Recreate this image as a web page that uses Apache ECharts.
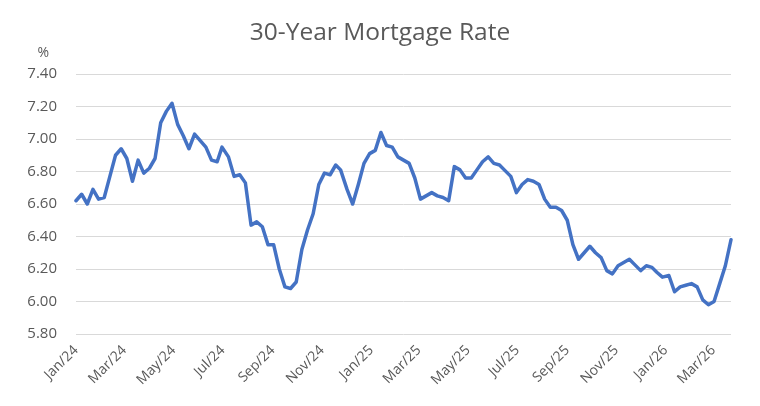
<!DOCTYPE html>
<html>
<head>
<meta charset="utf-8">
<script src="https://cdn.jsdelivr.net/npm/echarts@6/dist/echarts.min.js"></script>
<style>
  html, body { margin: 0; padding: 0; background: #fff; }
  #chart { width: 760px; height: 406px; }
</style>
</head>
<body>
<div id="chart"></div>
<script>
// Weekly survey dates (Thursdays, holiday weeks on Wednesday)
const dates2024 = [
  '2024-01-04','2024-01-11','2024-01-18','2024-01-25',
  '2024-02-01','2024-02-08','2024-02-15','2024-02-22','2024-02-29',
  '2024-03-07','2024-03-14','2024-03-21','2024-03-28',
  '2024-04-04','2024-04-11','2024-04-18','2024-04-25',
  '2024-05-02','2024-05-09','2024-05-16','2024-05-23','2024-05-30',
  '2024-06-06','2024-06-13','2024-06-20','2024-06-27',
  '2024-07-03','2024-07-11','2024-07-18','2024-07-25',
  '2024-08-01','2024-08-08','2024-08-15','2024-08-22','2024-08-29',
  '2024-09-05','2024-09-12','2024-09-19','2024-09-26',
  '2024-10-03','2024-10-10','2024-10-17','2024-10-24','2024-10-31',
  '2024-11-07','2024-11-14','2024-11-21','2024-11-27',
  '2024-12-05','2024-12-12','2024-12-19','2024-12-26'
];
const rates2024 = [
  6.62, 6.66, 6.60, 6.69,
  6.63, 6.64, 6.77, 6.90, 6.94,
  6.88, 6.74, 6.87, 6.79,
  6.82, 6.88, 7.10, 7.17,
  7.22, 7.09, 7.02, 6.94, 7.03,
  6.99, 6.95, 6.87, 6.86,
  6.95, 6.89, 6.77, 6.78,
  6.73, 6.47, 6.49, 6.46, 6.35,
  6.35, 6.20, 6.09, 6.08,
  6.12, 6.32, 6.44, 6.54, 6.72,
  6.79, 6.78, 6.84, 6.81,
  6.69, 6.60, 6.72, 6.85
];
const dates2025 = [
  '2025-01-02','2025-01-09','2025-01-16','2025-01-23','2025-01-30',
  '2025-02-06','2025-02-13','2025-02-20','2025-02-27',
  '2025-03-06','2025-03-13','2025-03-20','2025-03-27',
  '2025-04-03','2025-04-10','2025-04-17','2025-04-24',
  '2025-05-01','2025-05-08','2025-05-15','2025-05-22','2025-05-29',
  '2025-06-05','2025-06-12','2025-06-18','2025-06-26',
  '2025-07-03','2025-07-10','2025-07-17','2025-07-24','2025-07-31',
  '2025-08-07','2025-08-14','2025-08-21','2025-08-28',
  '2025-09-04','2025-09-11','2025-09-18','2025-09-25',
  '2025-10-02','2025-10-09','2025-10-16','2025-10-23','2025-10-30',
  '2025-11-06','2025-11-13','2025-11-20','2025-11-26',
  '2025-12-04','2025-12-11','2025-12-18','2025-12-24'
];
const rates2025 = [
  6.91, 6.93, 7.04, 6.96, 6.95,
  6.89, 6.87, 6.85, 6.76,
  6.63, 6.65, 6.67, 6.65,
  6.64, 6.62, 6.83, 6.81,
  6.76, 6.76, 6.81, 6.86, 6.89,
  6.85, 6.84, 6.81, 6.77,
  6.67, 6.72, 6.75, 6.74, 6.72,
  6.63, 6.58, 6.58, 6.56,
  6.50, 6.35, 6.26, 6.30,
  6.34, 6.30, 6.27, 6.19, 6.17,
  6.22, 6.24, 6.26, 6.23,
  6.19, 6.22, 6.21, 6.18
];
const dates2026 = [
  '2025-12-31','2026-01-08','2026-01-15','2026-01-22','2026-01-29',
  '2026-02-05','2026-02-12','2026-02-19','2026-02-26',
  '2026-03-05','2026-03-12','2026-03-19','2026-03-26'
];
const rates2026 = [
  6.15, 6.16, 6.06, 6.09, 6.10,
  6.11, 6.09, 6.01, 5.98,
  6.00, 6.11, 6.22, 6.38
];
// x-axis tick label dates (every two months from the first observation)
const tickDates = [
  '2024-01-04','2024-03-04','2024-05-04','2024-07-04','2024-09-04','2024-11-04',
  '2025-01-04','2025-03-04','2025-05-04','2025-07-04','2025-09-04','2025-11-04',
  '2026-01-04','2026-03-04'
];
const yTicks = [5.80, 6.00, 6.20, 6.40, 6.60, 6.80, 7.00, 7.20, 7.40];
const monthNames = ['Jan','Feb','Mar','Apr','May','Jun','Jul','Aug','Sep','Oct','Nov','Dec'];

function toTime(s) {
  const p = s.split('-').map(Number);
  return new Date(p[0], p[1] - 1, p[2]).getTime();
}

const allDates = dates2024.concat(dates2025, dates2026);
const allRates = rates2024.concat(rates2025, rates2026);
const seriesData = allDates.map((d, i) => [toTime(d), allRates[i]]);

const FONT = '"Open Sans", "DejaVu Sans", sans-serif';
const chart = echarts.init(document.getElementById('chart'), null, { renderer: 'canvas' });
chart.setOption({
  animation: false,
  backgroundColor: '#ffffff',
  title: {
    text: '30-Year Mortgage Rate',
    left: 'center',
    top: 16,
    textStyle: { fontFamily: FONT, fontSize: 24.5, fontWeight: 'normal', color: '#595959' }
  },
  grid: { left: 76, right: 29, top: 74, bottom: 72, containLabel: false },
  xAxis: {
    type: 'value',
    min: toTime(allDates[0]),
    max: toTime(allDates[allDates.length - 1]),
    axisLine: { show: false },
    axisTick: { show: false },
    splitLine: { show: false },
    axisLabel: {
      customValues: tickDates.map(toTime),
      rotate: 45,
      margin: 14,
      fontFamily: FONT,
      fontSize: 14,
      color: '#595959',
      hideOverlap: false,
      formatter: function (v) {
        const d = new Date(v);
        return monthNames[d.getMonth()] + '/' + String(d.getFullYear()).slice(2);
      }
    }
  },
  yAxis: {
    type: 'value',
    min: yTicks[0],
    max: yTicks[yTicks.length - 1],
    interval: 0.2,
    name: '%',
    nameLocation: 'end',
    nameGap: 14,
    nameTextStyle: { fontFamily: FONT, fontSize: 14, color: '#595959', align: 'right', padding: [0, 27, 0, 0] },
    axisLine: { show: false },
    axisTick: { show: false },
    splitLine: { lineStyle: { color: '#d9d9d9', width: 1 } },
    axisLabel: {
      margin: 19,
      fontFamily: FONT,
      fontSize: 15,
      color: '#595959',
      formatter: v => v.toFixed(2)
    }
  },
  series: [{
    type: 'line',
    data: seriesData,
    showSymbol: false,
    symbol: 'none',
    lineStyle: { color: '#4472c4', width: 3.5, join: 'round', cap: 'round' },
    itemStyle: { color: '#4472c4' }
  }]
});
</script>
</body>
</html>
